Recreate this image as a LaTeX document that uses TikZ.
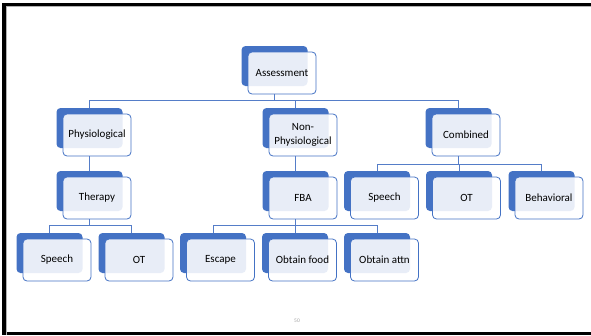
\documentclass[tikz,border=0pt]{standalone}
\usepackage{fontspec}
\setmainfont{Carlito}
\definecolor{darkb}{RGB}{68,114,196}
\definecolor{connc}{RGB}{85,125,200}
\definecolor{pgnum}{RGB}{165,165,165}
\tikzset{
  lightbox/.style={draw=darkb, line width=0.8pt, rounded corners=4pt, fill=white, fill opacity=0.88, text opacity=1,
    minimum width=68pt, minimum height=42pt, inner sep=0pt, outer sep=0pt, align=center, font=\fontsize{11}{14}\selectfont},
  darkbox/.style={fill=darkb, rounded corners=4pt, minimum width=66pt, minimum height=40pt, inner sep=0pt, outer sep=0pt},
  conn/.style={draw=connc, line width=0.8pt},
  frame/.style={fill=black}
}
\newcommand{\hnode}[4]{%
  \node[darkbox] (#1-d) at (#2-7.5,#3-7) {};
  \node[lightbox] (#1) at (#2,#3) {#4};
}
\begin{document}
\begin{tikzpicture}[x=1pt,y=-1pt]
\useasboundingbox (0,0) rectangle (591,335);
\fill[white] (0,0) rectangle (591,335);
% frame
\fill[frame] (2,2.5) rectangle (591,6);
\fill[frame] (2,2.5) rectangle (6,335);
\fill[frame] (2,331.5) rectangle (591,335);
\draw[gray!60, line width=0.6pt] (6.6,335) -- (6.6,6.6) -- (591,6.6);
% bar coordinates
\coordinate (b1) at (0,100);
\coordinate (b2) at (0,164);
\coordinate (b3) at (0,225);
% connectors
\coordinate (Ax) at (274.5,94);
\coordinate (Px) at (89.5,0);
\coordinate (Nx) at (295.5,0);
\coordinate (Cx) at (458.5,0);
\coordinate (Tx) at (89.5,0);
\coordinate (Fx) at (295.5,0);
% nodes
\hnode{A}{282}{73}{Assessment}
\hnode{P}{97}{135}{Physiological}
\hnode{N}{303}{135}{Non-\\Physiological}
\hnode{C}{466}{135}{Combined}
\hnode{T}{97}{198}{Therapy}
\hnode{F}{303}{198}{FBA}
\hnode{CS}{384.5}{198}{Speech}
\hnode{CO}{466.5}{198}{OT}
\hnode{CB}{549}{198}{Behavioral}
\hnode{TS}{57}{260}{Speech}
\hnode{TO}{139}{260}{OT}
\hnode{FE}{220.5}{260}{Escape}
\hnode{FF}{302.5}{260}{Obtain food}
\hnode{FA}{384.5}{260}{Obtain attn}
% tree connectors
\draw[conn] (A-d |- A.south) -- (A-d |- b1);
\draw[conn] (P-d.north) -- (P-d |- b1) -- (C-d |- b1) -- (C-d.north);
\draw[conn] (N-d |- b1) -- (N-d.north);
\draw[conn] (P-d |- P.south) -- (T-d.north);
\draw[conn] (N-d |- N.south) -- (F-d.north);
\draw[conn] (C-d |- C.south) -- (C-d |- b2);
\draw[conn] (CS-d.north) -- (CS-d |- b2) -- (CB-d |- b2) -- (CB-d.north);
\draw[conn] (CO-d |- b2) -- (CO-d.north);
\draw[conn] (T-d |- T.south) -- (T-d |- b3);
\draw[conn] (TS-d.north) -- (TS-d |- b3) -- (TO-d |- b3) -- (TO-d.north);
\draw[conn] (F-d |- F.south) -- (F-d |- b3);
\draw[conn] (FE-d.north) -- (FE-d |- b3) -- (FA-d |- b3) -- (FA-d.north);
\draw[conn] (FF-d |- b3) -- (FF-d.north);
% page number
\node[text=pgnum, font=\fontsize{5.5}{6}\selectfont, inner sep=0pt] (pg) at (297,321) {50};
\end{tikzpicture}
\end{document}
